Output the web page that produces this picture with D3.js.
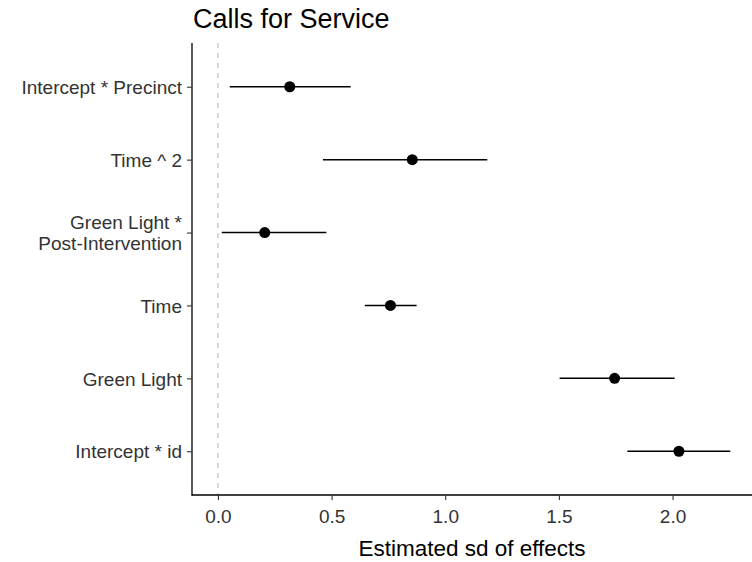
<!DOCTYPE html>
<html lang="en">
<head>
  <meta charset="UTF-8">
  <style>
    body {
      margin: 0;
      overflow: hidden;
      background: #fff;
    }

    svg {
      display: block;
      font-family: "Liberation Sans", Arial, sans-serif;
    }

    .tick-label {
      fill: #333;
      font-size: 19px;
    }

    .errbar {
      stroke: #000;
      stroke-width: 1.5;
    }
  </style>
  <script src="https://d3js.org/d3.v7.min.js"></script>
</head>
<body>

<svg id="chart"></svg>

<script>
  // terms, top to bottom
  const terms = ["Intercept * Precinct", "Time ^ 2", "Green Light *\nPost-Intervention", "Time", "Green Light", "Intercept * id"];
  const estimates = [0.316, 0.855, 0.206, 0.759, 1.745, 2.028];
  const lowers = [0.052, 0.462, 0.017, 0.646, 1.503, 1.801];
  const uppers = [0.584, 1.185, 0.477, 0.874, 2.009, 2.254];
  const xTicks = [0, 0.5, 1.0, 1.5, 2.0];

  const width = 752, height = 562;
  const panel = { left: 192, right: 756, top: 43, bottom: 495 };

  const svg = d3.select("#chart")
    .attr("width", width)
    .attr("height", height);

  const x = d3.scaleLinear()
    .domain([-0.114, 2.367])
    .range([panel.left, panel.right]);

  const y = d3.scalePoint()
    .domain(terms)
    .range([panel.top, panel.bottom])
    .padding(0.6);

  const rows = terms.map((t, i) => ({ term: t, est: estimates[i], lo: lowers[i], hi: uppers[i] }));

  // dashed reference line at zero
  svg.append("line")
    .attr("x1", x(0)).attr("x2", x(0))
    .attr("y1", panel.top).attr("y2", panel.bottom)
    .attr("stroke", "#bebebe")
    .attr("stroke-width", 1.2)
    .attr("stroke-dasharray", "5,5");

  // error bars
  svg.selectAll(".errbar")
    .data(rows)
    .enter().append("line")
    .attr("class", "errbar")
    .attr("x1", d => x(d.lo))
    .attr("x2", d => x(d.hi))
    .attr("y1", d => y(d.term))
    .attr("y2", d => y(d.term));

  // point estimates
  svg.selectAll(".pt")
    .data(rows)
    .enter().append("circle")
    .attr("class", "pt")
    .attr("cx", d => x(d.est))
    .attr("cy", d => y(d.term))
    .attr("r", 5.5)
    .attr("fill", "#000");

  // x axis
  const xAxis = svg.append("g")
    .attr("transform", `translate(0,${panel.bottom})`)
    .call(d3.axisBottom(x).tickValues(xTicks).tickFormat(d3.format(".1f")).tickSize(5).tickPadding(10).tickSizeOuter(0));
  xAxis.select(".domain").attr("stroke", "#000").attr("stroke-width", 1.3)
    .attr("d", `M${panel.left - 0.5},0H${width}`);
  xAxis.selectAll(".tick line").attr("stroke", "#333").attr("stroke-width", 1.1);
  xAxis.selectAll(".tick text").attr("class", "tick-label").attr("fill", null).attr("font-size", null).attr("font-family", null);

  // y axis
  const yAxis = svg.append("g")
    .attr("transform", `translate(${panel.left},0)`)
    .call(d3.axisLeft(y).tickSize(5).tickPadding(5).tickSizeOuter(0));
  yAxis.select(".domain").attr("stroke", "#000").attr("stroke-width", 1.3)
    .attr("d", `M0,${panel.top}V${panel.bottom + 0.5}`);
  yAxis.selectAll(".tick line").attr("stroke", "#333").attr("stroke-width", 1.1);
  yAxis.selectAll(".tick text")
    .attr("class", "tick-label").attr("fill", null).attr("font-size", null).attr("font-family", null)
    .each(function(d) {
      const lines = d.split("\n");
      const t = d3.select(this).text(null).attr("dy", null);
      const lh = 21;
      lines.forEach((ln, i) => {
        t.append("tspan")
          .attr("x", -10)
          .attr("dy", i === 0 ? (0.35 * 19 - (lines.length - 1) * lh / 2) + "px" : lh + "px")
          .text(ln);
      });
    });

  // axis title
  svg.append("text")
    .attr("x", (panel.left + width) / 2)
    .attr("y", 556)
    .attr("text-anchor", "middle")
    .attr("font-size", 22.5)
    .attr("fill", "#000")
    .text("Estimated sd of effects");

  // title
  svg.append("text")
    .attr("x", panel.left + 1)
    .attr("y", 28)
    .attr("font-size", 27)
    .attr("fill", "#000")
    .text("Calls for Service");
</script>

</body>
</html>
